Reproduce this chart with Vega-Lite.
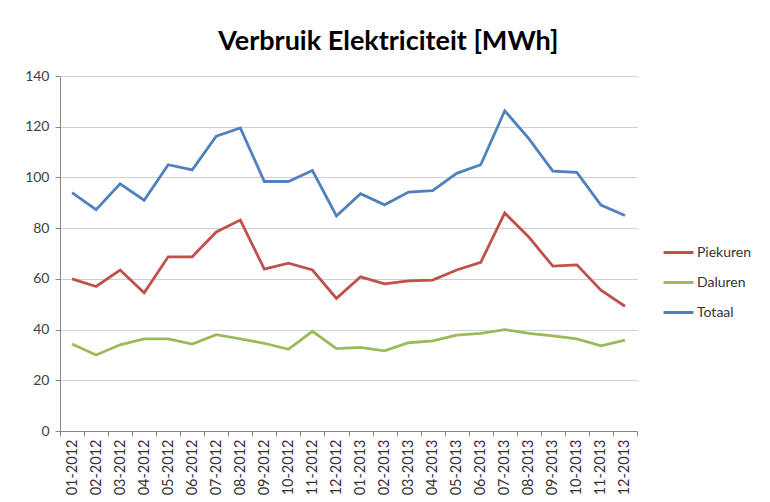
{
  "$schema": "https://vega.github.io/schema/vega-lite/v6.json",
  "width": 577,
  "height": 355,
  "autosize": "none",
  "padding": {"left": 60, "top": 76, "right": 133, "bottom": 71},
  "background": "white",
  "title": {
    "text": "Verbruik Elektriciteit [MWh]",
    "font": "Lato",
    "fontSize": 27,
    "fontWeight": "bold",
    "color": "#000000",
    "anchor": "middle",
    "frame": "bounds",
    "offset": 13
  },
  "data": {
    "values": [
      {"maand": "01-2012", "Piekuren": 60.0, "Daluren": 34.3, "Totaal": 94.0},
      {"maand": "02-2012", "Piekuren": 57.0, "Daluren": 30.0, "Totaal": 87.3},
      {"maand": "03-2012", "Piekuren": 63.5, "Daluren": 34.0, "Totaal": 97.5},
      {"maand": "04-2012", "Piekuren": 54.5, "Daluren": 36.3, "Totaal": 91.0},
      {"maand": "05-2012", "Piekuren": 68.7, "Daluren": 36.3, "Totaal": 105.0},
      {"maand": "06-2012", "Piekuren": 68.7, "Daluren": 34.3, "Totaal": 103.0},
      {"maand": "07-2012", "Piekuren": 78.5, "Daluren": 38.0, "Totaal": 116.3},
      {"maand": "08-2012", "Piekuren": 83.2, "Daluren": 36.3, "Totaal": 119.5},
      {"maand": "09-2012", "Piekuren": 63.8, "Daluren": 34.6, "Totaal": 98.4},
      {"maand": "10-2012", "Piekuren": 66.2, "Daluren": 32.2, "Totaal": 98.4},
      {"maand": "11-2012", "Piekuren": 63.5, "Daluren": 39.3, "Totaal": 102.7},
      {"maand": "12-2012", "Piekuren": 52.3, "Daluren": 32.5, "Totaal": 84.8},
      {"maand": "01-2013", "Piekuren": 60.8, "Daluren": 33.0, "Totaal": 93.6},
      {"maand": "02-2013", "Piekuren": 58.0, "Daluren": 31.6, "Totaal": 89.2},
      {"maand": "03-2013", "Piekuren": 59.2, "Daluren": 34.8, "Totaal": 94.2},
      {"maand": "04-2013", "Piekuren": 59.5, "Daluren": 35.5, "Totaal": 94.8},
      {"maand": "05-2013", "Piekuren": 63.5, "Daluren": 37.8, "Totaal": 101.6},
      {"maand": "06-2013", "Piekuren": 66.5, "Daluren": 38.5, "Totaal": 105.0},
      {"maand": "07-2013", "Piekuren": 86.0, "Daluren": 40.0, "Totaal": 126.3},
      {"maand": "08-2013", "Piekuren": 76.5, "Daluren": 38.5, "Totaal": 115.3},
      {"maand": "09-2013", "Piekuren": 65.0, "Daluren": 37.5, "Totaal": 102.5},
      {"maand": "10-2013", "Piekuren": 65.5, "Daluren": 36.3, "Totaal": 102.0},
      {"maand": "11-2013", "Piekuren": 55.5, "Daluren": 33.6, "Totaal": 89.1},
      {"maand": "12-2013", "Piekuren": 49.2, "Daluren": 35.8, "Totaal": 85.0}
    ]
  },
  "transform": [
    {"fold": ["Piekuren", "Daluren", "Totaal"], "as": ["reeks", "waarde"]}
  ],
  "mark": {"type": "line", "strokeWidth": 2.8, "strokeJoin": "miter"},
  "encoding": {
    "x": {
      "field": "maand",
      "type": "ordinal",
      "sort": null,
      "scale": {"paddingInner": 0, "paddingOuter": 0},
      "axis": {
        "title": null,
        "labelAngle": -90,
        "labelAlign": "right",
        "labelBaseline": "middle",
        "labelFont": "Lato",
        "labelFontSize": 14.5,
        "labelColor": "#333333",
        "labelPadding": 3,
        "tickBand": "extent",
        "tickSize": 5,
        "tickColor": "#868686",
        "domainColor": "#868686",
        "grid": false
      }
    },
    "y": {
      "field": "waarde",
      "type": "quantitative",
      "scale": {"domain": [0, 140], "nice": false},
      "axis": {
        "title": null,
        "values": [0, 20, 40, 60, 80, 100, 120, 140],
        "labelFont": "Lato",
        "labelFontSize": 14,
        "labelColor": "#404040",
        "labelPadding": 6,
        "tickSize": 5,
        "tickColor": "#868686",
        "domainColor": "#868686",
        "grid": true,
        "gridColor": "#d0d0d0",
        "gridWidth": 1.2
      }
    },
    "color": {
      "field": "reeks",
      "type": "nominal",
      "sort": ["Piekuren", "Daluren", "Totaal"],
      "scale": {"domain": ["Piekuren", "Daluren", "Totaal"], "range": ["#C0504D", "#9BBB59", "#4F81BD"]},
      "legend": {
        "title": null,
        "orient": "none",
        "legendX": 602,
        "legendY": 160,
        "symbolType": "stroke",
        "symbolSize": 900,
        "symbolStrokeWidth": 3,
        "labelFont": "Lato",
        "labelFontSize": 14,
        "labelColor": "#333333",
        "labelOffset": 2,
        "rowPadding": 6
      }
    }
  },
  "config": {
    "view": {"stroke": null}
  }
}
